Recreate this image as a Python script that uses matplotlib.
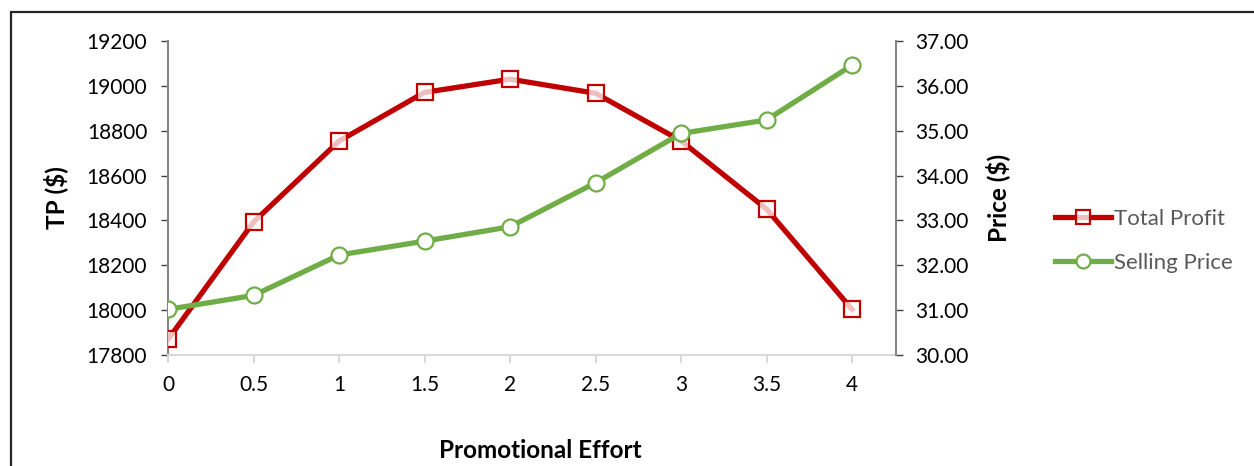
import matplotlib.pyplot as plt
from matplotlib.lines import Line2D
from matplotlib.patches import Rectangle

# Promotional effort levels and the two outcomes
effort = [0, 0.5, 1, 1.5, 2, 2.5, 3, 3.5, 4]
effort_labels = ['0', '0.5', '1', '1.5', '2', '2.5', '3', '3.5', '4']
total_profit = [17870, 18393, 18754, 18971, 19030, 18967, 18755, 18451, 18004]
selling_price = [31.02, 31.33, 32.23, 32.54, 32.86, 33.84, 34.94, 35.24, 36.46]

RED = '#C00000'
GREEN = '#70AD47'
plt.rcParams['font.family'] = ['Lato', 'DejaVu Sans']

fig = plt.figure(figsize=(12.54, 4.66), dpi=100)
ax = fig.add_axes([0.134, 0.238, 0.5805, 0.674])
ax2 = ax.twinx()

ax.plot(effort, total_profit, color=RED, lw=3.8, marker='s', ms=11.5,
        mfc=(1, 1, 1, 0.75), mec=RED, mew=1.6, zorder=3)
ax2.plot(effort, selling_price, color=GREEN, lw=3.8, marker='o', ms=11.5,
         mfc='white', mec=GREEN, mew=1.6, zorder=3)

ax.set_xlim(0, 4.257)
ax.set_ylim(17800, 19200)
ax.set_yticks(range(17800, 19201, 200))
ax2.set_ylim(30, 37)
ax2.set_yticks(range(30, 38))
ax2.set_yticklabels([f'{v:.2f}' for v in range(30, 38)])
ax.set_xticks(effort)
ax.set_xticklabels(effort_labels)

for a in (ax, ax2):
    a.spines['top'].set_visible(False)
ax.spines['right'].set_visible(False)
ax.spines['left'].set_color('#868686')
ax.spines['left'].set_linewidth(1.5)
ax.spines['bottom'].set_color('#D9D9D9')
ax.spines['bottom'].set_linewidth(1.5)
ax2.spines['left'].set_visible(False)
ax2.spines['bottom'].set_visible(False)
ax2.spines['right'].set_color('#868686')
ax2.spines['right'].set_linewidth(1.5)

ax.tick_params(axis='y', length=5, width=1, color='#404040', pad=10,
               labelsize=15, labelcolor='black')
ax2.tick_params(axis='y', length=5, width=1, color='#404040', pad=9,
                labelsize=15, labelcolor='black')
ax.tick_params(axis='x', length=6, width=1.5, color='#D9D9D9', pad=8,
               labelsize=15, labelcolor='black')

ax.set_ylabel('TP ($)', fontsize=17.5, fontweight='bold', labelpad=13)
ax2.set_ylabel('Price ($)', fontsize=17.5, fontweight='bold', labelpad=12)
fig.text(0.431, 0.033, 'Promotional Effort', ha='center', va='center',
         fontsize=17.5, fontweight='bold')

handles = [
    Line2D([], [], color=RED, lw=3.8, marker='s', ms=10,
           mfc=(1, 1, 1, 0.75), mec=RED, mew=1.6),
    Line2D([], [], color=GREEN, lw=3.8, marker='o', ms=10,
           mfc='white', mec=GREEN, mew=1.6),
]
fig.legend(handles, ['Total Profit', 'Selling Price'], loc='center left',
           bbox_to_anchor=(0.841, 0.483), frameon=False, fontsize=16,
           labelcolor='#595959', handlelength=2.55, handletextpad=0.12,
           labelspacing=1.07, borderpad=0, borderaxespad=0)

# chart frame
fig.patches.append(Rectangle((0.0088, -0.05), 1.2, 1.024, transform=fig.transFigure,
                             fill=False, edgecolor='#262626', lw=1.6))

fig.savefig('out.png', dpi=100)
